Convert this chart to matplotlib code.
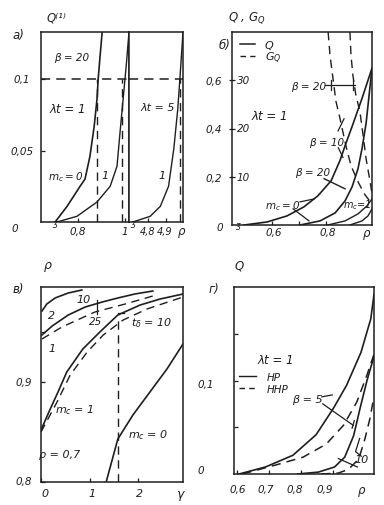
import matplotlib
matplotlib.use('Agg')
import matplotlib.pyplot as plt

plt.rcParams['font.family'] = ['DejaVu Sans']
plt.rcParams['font.style'] = 'italic'
plt.rcParams['mathtext.fontset'] = 'dejavusans'

W, H = 384, 506
INK = '#1e1e1e'

# panel a) Q(1) vs rho, lambda*t = 1 (left) and 5 (right)
a_rho_m0 = [0.703, 0.754, 0.809, 0.830, 0.851, 0.869, 0.881, 0.886, 0.894, 0.903]
a_q_m0 = [0.0, 0.011, 0.025, 0.030, 0.046, 0.067, 0.086, 0.100, 0.116, 0.133]
a_rho_m1 = [0.711, 0.796, 0.881, 0.937, 0.966, 0.979, 0.992, 1.005, 1.017]
a_q_m1 = [0.0, 0.004, 0.014, 0.025, 0.039, 0.063, 0.086, 0.109, 0.133]
a_rho_lt5 = [4.712, 4.812, 4.870, 4.917, 4.947, 4.970, 4.982, 5.0]
a_q_lt5 = [0.0, 0.004, 0.011, 0.025, 0.051, 0.079, 0.100, 0.133]
a_level = 0.1
a_rho_cut = [0.881, 0.988]      # where Q(1) reaches 0.1, lambda*t = 1
a_rho_cut5 = 4.985

# panel б) Q (solid) and G_Q (dashed) vs rho
b_rho_1 = [0.495, 0.580, 0.654, 0.717, 0.769, 0.818, 0.851, 0.873, 0.896, 0.933, 0.97]
b_q_1 = [0.0, 0.0125, 0.0375, 0.075, 0.121, 0.183, 0.267, 0.338, 0.408, 0.525, 0.65]
b_rho_2 = [0.703, 0.777, 0.833, 0.870, 0.896, 0.918, 0.933, 0.948, 0.97]
b_q_2 = [0.0, 0.017, 0.05, 0.10, 0.158, 0.233, 0.317, 0.421, 0.65]
b_rho_3 = [0.806, 0.870, 0.918, 0.951, 0.97]
b_q_3 = [0.0, 0.017, 0.046, 0.079, 0.108]
b_rho_4 = [0.888, 0.933, 0.955, 0.97]
b_q_4 = [0.0, 0.017, 0.0375, 0.067]
b_rho_g1 = [0.807, 0.814, 0.825, 0.836, 0.851, 0.873, 0.892, 0.918, 0.944, 0.97]
b_q_g1 = [0.80, 0.704, 0.608, 0.513, 0.442, 0.329, 0.246, 0.179, 0.125, 0.0875]
b_rho_g2 = [0.888, 0.892, 0.899, 0.910, 0.925, 0.937, 0.948, 0.963, 0.97]
b_q_g2 = [0.80, 0.704, 0.621, 0.538, 0.471, 0.371, 0.275, 0.179, 0.129]
b_g_ticks = [10, 20, 30]
b_g_per_q = 50

# panel в) rho vs gamma
c_g_2 = [0.02, 0.12, 0.29, 0.56, 0.84]
c_r_2 = [0.971, 0.978, 0.984, 0.989, 0.992]
c_g_1 = [0.02, 0.23, 0.56, 0.91, 1.26, 1.58, 1.93, 2.30]
c_r_1 = [0.947, 0.956, 0.967, 0.975, 0.980, 0.984, 0.988, 0.991]
c_g_1d = [0.02, 0.43, 1.11, 1.73, 2.30]
c_r_1d = [0.943, 0.955, 0.970, 0.978, 0.986]
c_g_m1 = [0.0, 0.19, 0.35, 0.53, 0.86, 1.21, 1.58, 2.04, 2.45, 2.92]
c_r_m1 = [0.852, 0.873, 0.890, 0.910, 0.933, 0.950, 0.967, 0.977, 0.983, 0.988]
c_g_m1d = [0.0, 0.33, 0.60, 0.95, 1.28, 1.69, 2.18, 2.92]
c_r_m1d = [0.850, 0.880, 0.907, 0.930, 0.947, 0.962, 0.973, 0.985]
c_g_m0 = [1.34, 1.58, 1.89, 2.24, 2.59, 2.92]
c_r_m0 = [0.80, 0.843, 0.867, 0.890, 0.913, 0.938]
c_g_cut = 1.58

# panel г) Q vs rho, HP (solid) / HHP (dashed)
d_rho_5 = [0.606, 0.689, 0.775, 0.848, 0.902, 0.944, 0.989, 1.020, 1.03]
d_q_5 = [0.0, 0.0075, 0.020, 0.042, 0.070, 0.095, 0.130, 0.166, 0.192]
d_rho_5d = [0.616, 0.721, 0.807, 0.880, 0.934, 0.976, 1.008, 1.03]
d_q_5d = [0.0, 0.0096, 0.018, 0.032, 0.052, 0.077, 0.106, 0.128]
d_rho_10 = [0.79, 0.855, 0.906, 0.938, 0.966, 0.986, 1.008, 1.03]
d_q_10 = [0.0, 0.002, 0.0075, 0.018, 0.041, 0.070, 0.100, 0.126]
d_rho_10d = [0.864, 0.918, 0.950, 0.982, 1.001, 1.017, 1.03]
d_q_10d = [0.0, 0.001, 0.005, 0.016, 0.037, 0.059, 0.083]

fig = plt.figure(figsize=(W / 100, H / 100), dpi=100)
fig.patch.set_facecolor('white')


def box(l, r, t, b):
    ax = fig.add_axes([l / W, 1 - b / H, (r - l) / W, (b - t) / H])
    for s in ax.spines.values():
        s.set_linewidth(1.1)
        s.set_color(INK)
    ax.tick_params(direction='in', length=3, width=0.9, colors=INK,
                   labelsize=7.5, pad=3)
    return ax


def txt(x, y, s, size=8, ha='center', **kw):
    fig.text(x / W, 1 - y / H, s, fontsize=size, color=INK, ha=ha,
             va='center', style='italic', **kw)


def line(ax, x, y, ls='-', lw=1.2):
    ax.plot(x, y, color=INK, lw=lw, ls=ls, dashes=(6, 4) if ls == '--' else (None, None))


# ---------------- а)
a1 = box(41, 129, 33, 223)
a2 = box(129, 183, 33, 223)
a1.set_xlim(0.643, 1.017)
a2.set_xlim(4.69, 5.0)
for ax in (a1, a2):
    ax.set_ylim(0, 0.133)
    ax.axhline(a_level, color=INK, lw=1.1, dashes=(6, 4))
line(a1, a_rho_m0, a_q_m0)
line(a1, a_rho_m1, a_q_m1, lw=1.0)
line(a2, a_rho_lt5, a_q_lt5, lw=1.0)
for r in a_rho_cut:
    a1.plot([r, r], [0, a_level], color=INK, lw=1.0, dashes=(6, 4))
a2.plot([a_rho_cut5, a_rho_cut5], [0, a_level], color=INK, lw=1.0, dashes=(6, 4))
a1.set_xticks([0.8, 1.0], ['', ''])
a1.set_yticks([0.05, 0.1], ['', ''])
a2.set_xticks([4.8, 4.9], ['', ''])
a2.set_yticks([])
txt(18, 36, 'а)', 8.5)
txt(56, 18, 'Q⁽¹⁾', 8.5)
txt(72, 58, 'β = 20', 7.5)
txt(68, 110, 'λt = 1', 8.5)
txt(158, 108, 'λt = 5', 8)
txt(66, 177, '$m_c = 0$', 7.5)
txt(105, 176, '1', 8)
txt(162, 176, '1', 8)
txt(22, 80, '0,1', 7.5)
txt(22, 152, '0,05', 7.5)
txt(15, 229, '0', 7.5)
txt(78, 232, '0,8', 7.5)
txt(125, 232, '1', 7.5)
txt(148, 232, '4,8', 7)
txt(165, 232, '4,9', 7)
txt(182, 232, 'ρ', 8.5)
txt(55, 223, 'ʒ', 6)
txt(133, 223, 'ʒ', 6)

# ---------------- б)
b = box(232, 372, 33, 226)
b.set_xlim(0.45, 0.97)
b.set_ylim(0, 0.80)
line(b, b_rho_1, b_q_1)
line(b, b_rho_2, b_q_2)
line(b, b_rho_3, b_q_3, lw=1.0)
line(b, b_rho_4, b_q_4, lw=1.0)
line(b, b_rho_g1, b_q_g1, '--', 1.0)
line(b, b_rho_g2, b_q_g2, '--', 1.0)
b.set_xticks([0.6, 0.7, 0.8], ['', '', ''])
b.set_yticks([g / b_g_per_q for g in b_g_ticks], ['0,2', '0,4', '0,6'])
b.tick_params(axis='y', direction='inout', length=5, pad=5)
for g in b_g_ticks:
    b.text(0.035, g / b_g_per_q, str(g), transform=b.get_yaxis_transform(),
           fontsize=7.5, color=INK, ha='left', va='center', style='italic')
# legend
b.plot([0.48, 0.535], [0.75, 0.75], color=INK, lw=1.1)
b.plot([0.48, 0.535], [0.70, 0.70], color=INK, lw=1.0, dashes=(4, 3))
txt(269, 46, 'Q', 8)
txt(273, 58, '$G_Q$', 8)
# bracket beta = 20 on G_Q
b.plot([0.797, 0.905], [0.58, 0.58], color=INK, lw=0.9)
b.plot([0.818, 0.818], [0.56, 0.60], color=INK, lw=0.9)
b.plot([0.900, 0.900], [0.56, 0.60], color=INK, lw=0.9)
txt(309, 87, 'β = 20', 7.5)
txt(327, 143, 'β = 10', 7.5)
b.plot([0.844, 0.866], [0.39, 0.44], color=INK, lw=0.9)
b.plot([0.845, 0.862], [0.32, 0.28], color=INK, lw=0.9)
txt(313, 173, 'β = 20', 7.5)
b.plot([0.792, 0.870], [0.192, 0.15], color=INK, lw=1.0)
txt(283, 206, '$m_c = 0$', 7.5)
b.plot([0.703, 0.755], [0.096, 0.108], color=INK, lw=0.9)
b.plot([0.677, 0.736], [0.067, 0.017], color=INK, lw=0.9)
txt(357, 205, '$m_c$=1', 7)
txt(270, 117, 'λt = 1', 8.5)
txt(228, 18, 'Q , $G_Q$', 8.5, ha='left')
txt(225, 45, 'б)', 8.5)
txt(220, 228, '0', 7.5)
txt(274, 233, '0,6', 7.5)
txt(328, 233, '0,8', 7.5)
txt(367, 234, 'ρ', 8.5)
txt(238, 226, 'ʒ', 6)

# ---------------- в)
c = box(41, 183, 288, 483)
c.set_xlim(0, 2.92)
c.set_ylim(0.8, 0.995)
line(c, c_g_2, c_r_2)
line(c, c_g_1, c_r_1)
line(c, c_g_1d, c_r_1d, '--', 1.0)
line(c, c_g_m1, c_r_m1)
line(c, c_g_m1d, c_r_m1d, '--', 1.0)
line(c, c_g_m0, c_r_m0)
c.plot([c_g_cut, c_g_cut], [0.8, 0.967], color=INK, lw=1.0, dashes=(6, 4))
c.plot([c_g_cut, c_g_cut + 0.12], [0.969, 0.969], color=INK, lw=0.9)
c.plot([1.15, 1.15], [0.968, 0.982], color=INK, lw=0.9)
c.set_xticks([0, 1, 2], ['', '', ''])
c.set_yticks([0.8, 0.9, 0.95], ['', '', ''])
txt(18, 290, 'в)', 8.5)
txt(48, 266, 'ρ', 9)
txt(52, 316, '2', 8)
txt(84, 300, '10', 8)
txt(96, 322, '25', 7.5)
txt(52, 349, '1', 8)
txt(152, 323, '$t_\\delta$ = 10', 8)
txt(75, 410, '$m_c$ = 1', 8)
txt(148, 435, '$m_c$ = 0', 8)
txt(60, 455, 'ρ = 0,7', 8)
txt(24, 383, '0,9', 7.5)
txt(24, 482, '0,8', 7.5)
txt(45, 494, '0', 8)
txt(92, 494, '1', 8)
txt(140, 494, '2', 8)
txt(180, 495, 'γ', 9)

# ---------------- г)
d = box(234, 374, 288, 475)
d.set_xlim(0.59, 1.03)
d.set_ylim(0, 0.2)
line(d, d_rho_5, d_q_5)
line(d, d_rho_5d, d_q_5d, '--', 1.1)
line(d, d_rho_10, d_q_10)
line(d, d_rho_10d, d_q_10d, '--', 1.1)
d.set_xticks([0.6, 0.7, 0.8, 0.9], ['', '', '', ''])
d.set_yticks([0.05, 0.1, 0.15], ['', '', ''])
# legend
lx = [0.605, 0.66]
d.plot(lx, [0.1045, 0.1045], color=INK, lw=1.0)
d.plot(lx, [0.0915, 0.0915], color=INK, lw=1.0, dashes=(4, 3))
txt(274, 378, 'HP', 7.5)
txt(278, 390, 'HHP', 7.5)
txt(276, 361, 'λt = 1', 8.5)
txt(307, 400, 'β = 5', 8)
d.plot([0.866, 0.899], [0.0825, 0.0846], color=INK, lw=0.9)
d.plot([0.869, 0.965], [0.075, 0.052], color=INK, lw=0.9)
d.plot([0.961, 0.968], [0.049, 0.057], color=INK, lw=0.9)
txt(362, 460, '10', 8)
d.plot([0.918, 0.978], [0.0165, 0.0075], color=INK, lw=0.9)
d.plot([0.985, 0.972, 0.99], [0.038, 0.024, 0.019], color=INK, lw=0.9)
txt(239, 266, 'Q', 8.5)
txt(214, 290, 'г)', 8.5)
txt(206, 385, '0,1', 7.5)
txt(201, 471, '0', 7.5)
txt(238, 490, '0,6', 7.5)
txt(266, 490, '0,7', 7.5)
txt(295, 490, '0,8', 7.5)
txt(325, 490, '0,9', 7.5)
txt(362, 491, 'ρ', 8.5)

fig.savefig('out.png', dpi=100, facecolor='white')
